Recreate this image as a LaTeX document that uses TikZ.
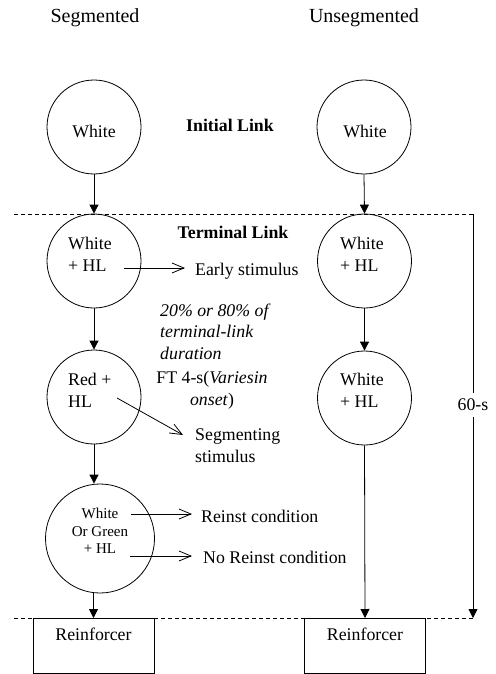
\documentclass[tikz,border=0pt]{standalone}
\usepackage{fontspec}
\setmainfont{Liberation Serif}
\usetikzlibrary{arrows.meta}
\begin{document}
\begin{tikzpicture}[x=1pt,y=-1pt,
  circ/.style={draw,circle,minimum size=94pt,inner sep=0pt,line width=0.8pt},
  bigcirc/.style={circ,minimum size=109pt},
  txt/.style={font=\fontsize{17.8}{22}\selectfont,inner sep=0pt,align=left},
  ctxt/.style={txt,align=center},
  ttl/.style={font=\fontsize{20}{24}\selectfont,inner sep=0pt},
  btxt/.style={txt,font=\fontsize{17.8}{22}\selectfont\bfseries},
  itxt/.style={txt,font=\fontsize{17.8}{21.5}\selectfont\itshape},
  small/.style={inner sep=0pt,align=center,font=\fontsize{15}{17.5}\selectfont},
  rbox/.style={draw,line width=0.8pt,minimum width=121pt,inner xsep=0pt,inner ysep=10pt,
    text height=12pt,text depth=23pt,anchor=north,font=\fontsize{17.8}{22}\selectfont},
  varr/.style={line width=0.8pt,-{Triangle[length=9pt,width=9pt]}},
  sarr/.style={line width=0.8pt,-{Straight Barb[length=12pt,width=10pt,line width=0.8pt]}},
  dline/.style={line width=0.7pt,dash pattern=on 4pt off 3pt}
]
\useasboundingbox (0,0) rectangle (495,674);

% titles
\node[ttl] (tseg) at (95,18) {Segmented};
\node[ttl] (tuns) at (364,18) {Unsegmented};

% dashed lines
\coordinate (dl1) at (14,214);
\coordinate (dr1) at (473,214);
\coordinate (dl2) at (14,618);
\coordinate (dr2) at (473,618);
\draw[dline] (dl1) -- (dr1);
\draw[dline] (dl2) -- (dr2);

% left column
\node[circ] (c1) at (94,127) {};
\node[txt] (c1t) at (94,131) {White};
\node[circ] (c2) at (94,261) {};
\node[txt,anchor=west] (c2t) at (68,254) {White\\+ HL};
\node[circ] (c3) at (94,397) {};
\node[txt,anchor=west] (c3t) at (68,390) {Red +\\HL};
\node[bigcirc] (c4) at (100,538.5) {};
\node[small] (c4t) at (100,531) {White\\Or Green\\+ HL};
\node[rbox] (b1) at (93.5,618) {Reinforcer};

% right column
\node[circ] (r1) at (364,127) {};
\node[txt] (r1t) at (365,131) {White};
\node[circ] (r2) at (364.5,261) {};
\node[txt,anchor=west] (r2t) at (340,254) {White\\+ HL};
\node[circ] (r3) at (364.5,398) {};
\node[txt,anchor=west] (r3t) at (340,390) {White\\+ HL};
\node[rbox] (b2) at (365,618) {Reinforcer};

% middle labels
\node[btxt] (init) at (230,125) {Initial Link};
\node[btxt] (term) at (233,232) {Terminal Link};
\node[txt,anchor=west] (early) at (195,271) {Early stimulus};
\node[itxt,anchor=west] (dur) at (160,331.5) {20\% or 80\% of\\terminal-link\\duration};
\node[ctxt] (ft) at (212,390.5) {FT 4-s(\textit{Variesin}\\\textit{onset})};
\node[txt,anchor=west] (segs) at (195,445.5) {Segmenting\\stimulus};
\node[txt,anchor=west] (rein) at (201,516) {Reinst condition};
\node[txt,anchor=west] (nrein) at (203,557) {No Reinst condition};

% vertical arrows left
\draw[varr] (c1.south) -- (c2.north);
\draw[varr] (c2.south) -- (c3.north);
\draw[varr] (c3.south) -- (c3.south |- c4.north);
\draw[varr] (b1.north |- c4.south) -- (b1.north);

% vertical arrows right
\draw[varr] (r1.south) -- (r2.north);
\draw[varr] (r2.south) -- (r3.north);
\draw[varr] (r3.south) -- (b2.north);

% side arrows
\coordinate (e1) at (124,268);
\coordinate (e2) at (185,268);
\draw[sarr] (e1) -- (e2);
\coordinate (s1) at (117,398);
\coordinate (s2) at (183,435);
\draw[sarr] (s1) -- (s2);
\coordinate (q1) at (131,514);
\coordinate (q2) at (192,514);
\draw[sarr] (q1) -- (q2);
\coordinate (n1) at (130,556);
\coordinate (n2) at (192,556);
\draw[sarr] (n1) -- (n2);

% 60-s timeline
\node[txt,fill=white,inner ysep=6pt] (sixty) at (473,405) {60-s};
\draw[line width=0.8pt] (dr1) -- (sixty.north);
\draw[varr] (sixty.south) -- (dr2);
\end{tikzpicture}
\end{document}
